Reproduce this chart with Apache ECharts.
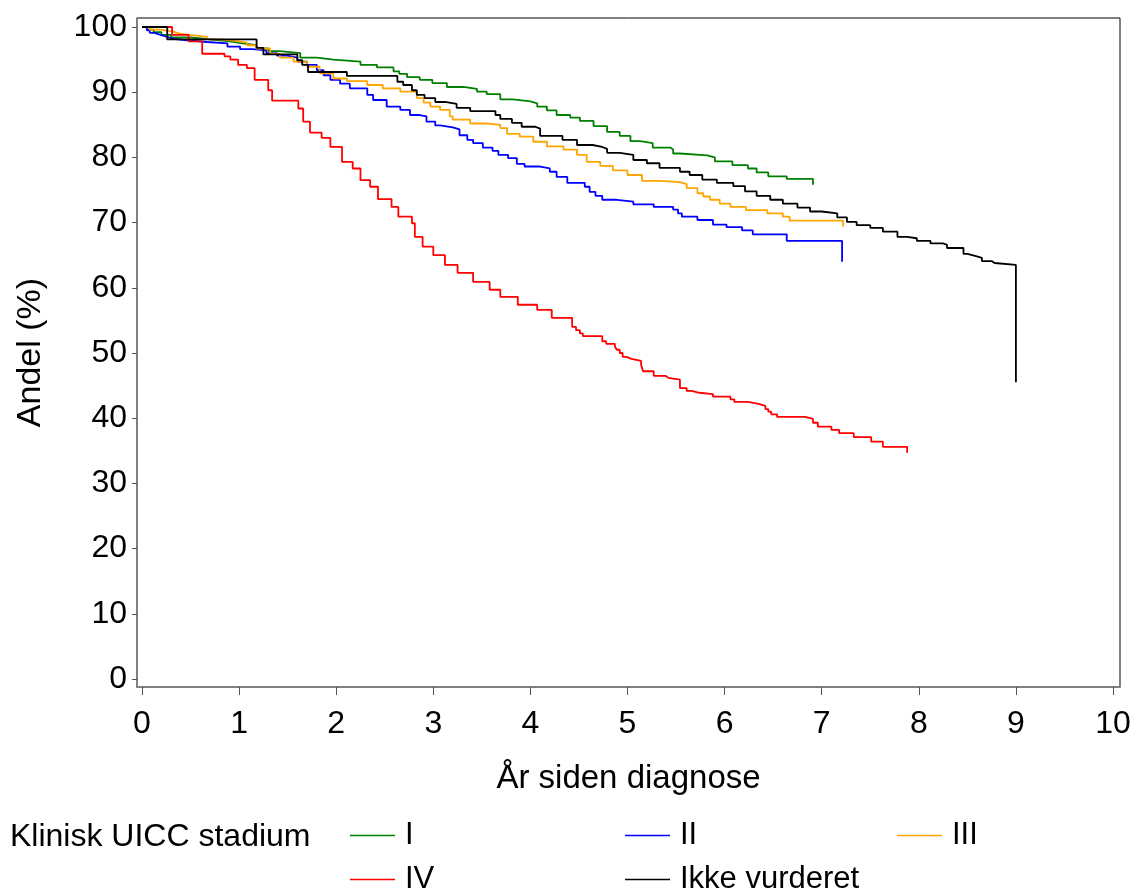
<!DOCTYPE html>
<html>
<head>
<meta charset="utf-8">
<title>Klinisk UICC stadium</title>
<script src="https://cdn.jsdelivr.net/npm/echarts@6/dist/echarts.min.js"></script>
<style>
  html, body { margin: 0; padding: 0; background: #fff; }
  #chart { width: 1136px; height: 890px; }
</style>
</head>
<body>
<div id="chart"></div>
<script>
// Kaplan-Meier style curves: [years, percent], value after each drop
const stageI = [
  [0, 100], [0.05, 99.6], [0.12, 99.2], [0.2, 98.8], [0.3, 98.4], [0.5, 98.1], [0.7, 97.8],
  [0.9, 97.5], [1.04, 97.2], [1.18, 96.7], [1.3, 96.3], [1.42, 96.0], [1.63, 95.3], [1.8, 95.0],
  [1.97, 94.7], [2.25, 94.2], [2.42, 93.8], [2.59, 93.2], [2.65, 92.8], [2.73, 92.3], [2.86, 91.9],
  [2.99, 91.4], [3.14, 90.8], [3.31, 90.5], [3.45, 90.1], [3.55, 89.7], [3.69, 88.9], [3.82, 88.6],
  [4.0, 88.3], [4.07, 87.8], [4.17, 87.2], [4.27, 86.5], [4.41, 86.1], [4.51, 85.6], [4.65, 84.8],
  [4.79, 83.9], [4.92, 83.3], [5.03, 82.5], [5.13, 82.2], [5.26, 81.5], [5.44, 81.2], [5.47, 80.6],
  [5.54, 80.3], [5.82, 80.0], [5.90, 79.4], [6.08, 78.8], [6.24, 78.3], [6.33, 77.7], [6.45, 77.1],
  [6.64, 76.7], [6.91, 75.8]
]
const stageII = [
  [0, 100], [0.05, 99.5], [0.08, 99.1], [0.13, 98.8], [0.19, 98.5], [0.26, 98.2], [0.32, 97.9],
  [0.49, 97.7], [0.67, 97.5], [0.88, 97.0], [1.01, 96.6], [1.14, 96.4], [1.28, 96.0], [1.39, 95.6],
  [1.49, 95.3], [1.60, 94.7], [1.70, 94.2], [1.80, 93.4], [1.87, 92.6], [1.94, 91.9], [2.04, 91.3],
  [2.14, 90.6], [2.32, 89.6], [2.38, 88.8], [2.52, 87.8], [2.66, 87.3], [2.76, 86.5], [2.86, 86.3],
  [2.93, 85.5], [3.02, 84.9], [3.07, 84.6], [3.2, 84.3], [3.27, 83.4], [3.35, 82.7], [3.41, 82.2],
  [3.51, 81.5], [3.61, 81.0], [3.67, 80.4], [3.77, 79.9], [3.86, 79.0], [3.94, 78.6], [4.10, 78.3],
  [4.2, 77.8], [4.27, 77.0], [4.38, 76.1], [4.56, 75.5], [4.61, 74.7], [4.67, 74.1], [4.74, 73.5],
  [4.89, 73.2], [5.06, 72.8], [5.27, 72.4], [5.47, 72.0], [5.52, 71.4], [5.56, 70.9], [5.72, 70.4],
  [5.88, 69.7], [6.02, 69.3], [6.18, 68.8], [6.29, 68.2], [6.64, 67.2], [7.21, 64.0]
]
const stageIII = [
  [0, 100], [0.08, 99.6], [0.19, 99.4], [0.26, 99.3], [0.32, 99.0], [0.39, 98.8], [0.49, 98.5],
  [0.67, 98.1], [0.80, 97.9], [0.94, 97.6], [1.08, 97.2], [1.18, 96.7], [1.32, 95.9], [1.42, 95.3],
  [1.56, 94.7], [1.70, 93.9], [1.83, 92.9], [1.97, 92.1], [2.11, 91.7], [2.32, 91.1], [2.48, 90.6],
  [2.66, 90.1], [2.83, 89.1], [2.90, 88.4], [2.97, 87.8], [3.07, 87.3], [3.17, 86.3], [3.2, 85.8],
  [3.38, 85.2], [3.55, 85.0], [3.69, 84.5], [3.76, 83.6], [3.89, 83.2], [4.03, 82.4], [4.17, 81.7],
  [4.34, 81.2], [4.48, 80.4], [4.58, 79.3], [4.72, 78.7], [4.85, 78.0], [5.0, 77.3], [5.15, 76.4],
  [5.33, 76.2], [5.54, 75.9], [5.61, 75.3], [5.72, 74.5], [5.78, 74.0], [5.85, 73.5], [5.95, 72.9],
  [6.06, 72.4], [6.22, 71.9], [6.44, 71.4], [6.60, 70.9], [6.67, 70.3], [7.22, 69.4]
]
const stageIV = [
  [0, 100], [0.31, 98.8], [0.48, 97.8], [0.62, 95.9], [0.85, 95.5], [0.91, 95.0], [0.99, 94.2],
  [1.08, 93.7], [1.16, 91.9], [1.30, 90.3], [1.34, 88.7], [1.61, 87.5], [1.66, 85.5], [1.73, 83.8],
  [1.85, 83.0], [1.94, 81.6], [2.06, 79.3], [2.17, 78.3], [2.25, 76.5], [2.35, 75.5], [2.43, 73.6],
  [2.57, 72.4], [2.64, 70.9], [2.78, 69.9], [2.81, 67.8], [2.89, 66.3], [3.00, 65.0], [3.12, 63.5],
  [3.25, 62.3], [3.41, 60.9], [3.58, 59.7], [3.69, 58.6], [3.87, 57.4], [4.07, 56.6], [4.22, 55.4],
  [4.43, 54.0], [4.47, 53.5], [4.51, 53.0], [4.54, 52.6], [4.74, 51.8], [4.78, 51.4], [4.87, 51.0],
  [4.89, 50.5], [4.92, 50.0], [4.95, 49.4], [4.99, 49.1], [5.04, 48.8], [5.14, 48.2], [5.16, 47.2],
  [5.27, 46.5], [5.39, 46.2], [5.42, 45.9], [5.54, 44.6], [5.61, 44.2], [5.66, 43.9], [5.74, 43.7],
  [5.88, 43.3], [6.06, 42.9], [6.10, 42.5], [6.24, 42.2], [6.35, 41.9], [6.42, 41.4], [6.45, 41.0],
  [6.48, 40.6], [6.54, 40.2], [6.83, 39.9], [6.91, 39.3], [6.96, 38.7], [7.10, 38.2], [7.18, 37.7],
  [7.33, 37.1], [7.51, 36.4], [7.63, 35.6], [7.88, 34.7]
]
const notAssessed = [
  [0, 100], [0.26, 98.1], [1.18, 96.8], [1.25, 95.8], [1.60, 94.9], [1.65, 94.2], [1.71, 93.1],
  [2.11, 92.5], [2.63, 91.6], [2.69, 91.1], [2.78, 90.3], [2.83, 89.6], [2.91, 89.1], [3.02, 88.5],
  [3.12, 88.2], [3.24, 87.6], [3.38, 87.1], [3.64, 86.5], [3.69, 85.9], [3.81, 85.3], [3.91, 84.7],
  [4.05, 84.4], [4.10, 83.3], [4.33, 82.7], [4.48, 81.9], [4.64, 81.6], [4.74, 81.3], [4.79, 80.7],
  [4.92, 80.4], [5.06, 79.6], [5.20, 79.1], [5.33, 78.4], [5.54, 77.8], [5.64, 77.3], [5.77, 76.6],
  [5.92, 76.1], [6.09, 75.6], [6.21, 74.8], [6.33, 74.1], [6.47, 73.5], [6.60, 72.9], [6.75, 72.3],
  [6.88, 71.7], [7.00, 71.4], [7.16, 70.8], [7.26, 70.1], [7.36, 69.6], [7.50, 69.2], [7.63, 68.6],
  [7.78, 67.8], [7.88, 67.6], [7.98, 67.2], [8.12, 66.8], [8.25, 66.6], [8.29, 66.1], [8.46, 65.2],
  [8.50, 64.9], [8.58, 64.6], [8.65, 64.1], [8.75, 63.8], [8.78, 63.5], [9.00, 45.5]
]

const seriesNames = ['I', 'II', 'III', 'IV', 'Ikke vurderet']
const seriesColors = ['#008000', '#0000ff', '#ffa500', '#ff0000', '#000000']
const seriesData = [stageI, stageII, stageIII, stageIV, notAssessed]
const xTicks = [0, 1, 2, 3, 4, 5, 6, 7, 8, 9, 10]
const yTicks = [0, 10, 20, 30, 40, 50, 60, 70, 80, 90, 100]

const FONT = '"Liberation Sans", Arial, sans-serif'
const chart = echarts.init(document.getElementById('chart'))

// legend grid: three columns, two rows
const legendSlots = [
  { left: 350, top: 820 },
  { left: 625, top: 820 },
  { left: 897, top: 820 },
  { left: 350, top: 864 },
  { left: 625, top: 864 },
]

chart.setOption({
  animation: false,
  backgroundColor: '#fff',
  textStyle: { fontFamily: FONT },
  grid: {
    left: 137, right: 16, top: 18, bottom: 203,
    show: true, borderColor: '#000', borderWidth: 1, backgroundColor: 'transparent',
  },
  graphic: [{
    type: 'text',
    left: 10,
    top: 821,
    style: { text: 'Klinisk UICC stadium', fill: '#000', font: `32px ${FONT}` },
  }],
  legend: seriesNames.map((name, i) => ({
    data: [name],
    left: legendSlots[i].left,
    top: legendSlots[i].top,
    padding: 0,
    icon: 'rect',
    itemWidth: 45,
    itemHeight: 1.5,
    selectedMode: false,
    textStyle: { fontSize: 31, color: '#000', fontFamily: FONT, padding: [0, 0, 0, 5] },
  })),
  xAxis: {
    type: 'value',
    min: -0.0515,
    max: 10.072,
    name: 'År siden diagnose',
    nameLocation: 'middle',
    nameGap: 75,
    nameTextStyle: { fontSize: 33, color: '#000', fontFamily: FONT },
    axisLine: { onZero: false, lineStyle: { color: '#808080', width: 2 } },
    axisTick: { customValues: xTicks, length: 8, lineStyle: { color: '#555', width: 1 } },
    axisLabel: { customValues: xTicks, margin: 21, fontSize: 32, color: '#000', fontFamily: FONT },
    splitLine: { show: false },
  },
  yAxis: {
    type: 'value',
    min: -1.23,
    max: 101.38,
    name: 'Andel (%)',
    nameLocation: 'middle',
    nameGap: 89,
    nameTextStyle: { fontSize: 34, color: '#000', fontFamily: FONT },
    axisLine: { show: true, onZero: false, lineStyle: { color: '#808080', width: 1.5 } },
    axisTick: { show: true, customValues: yTicks, length: 5, lineStyle: { color: '#555', width: 1 } },
    axisLabel: { customValues: yTicks, margin: 10, fontSize: 32, color: '#000', fontFamily: FONT },
    splitLine: { show: false },
  },
  series: seriesNames.map((name, i) => ({
    name,
    type: 'line',
    step: 'end',
    symbol: 'none',
    showSymbol: false,
    color: seriesColors[i],
    lineStyle: { color: seriesColors[i], width: 1.8 },
    data: seriesData[i],
  })),
})
</script>
</body>
</html>
